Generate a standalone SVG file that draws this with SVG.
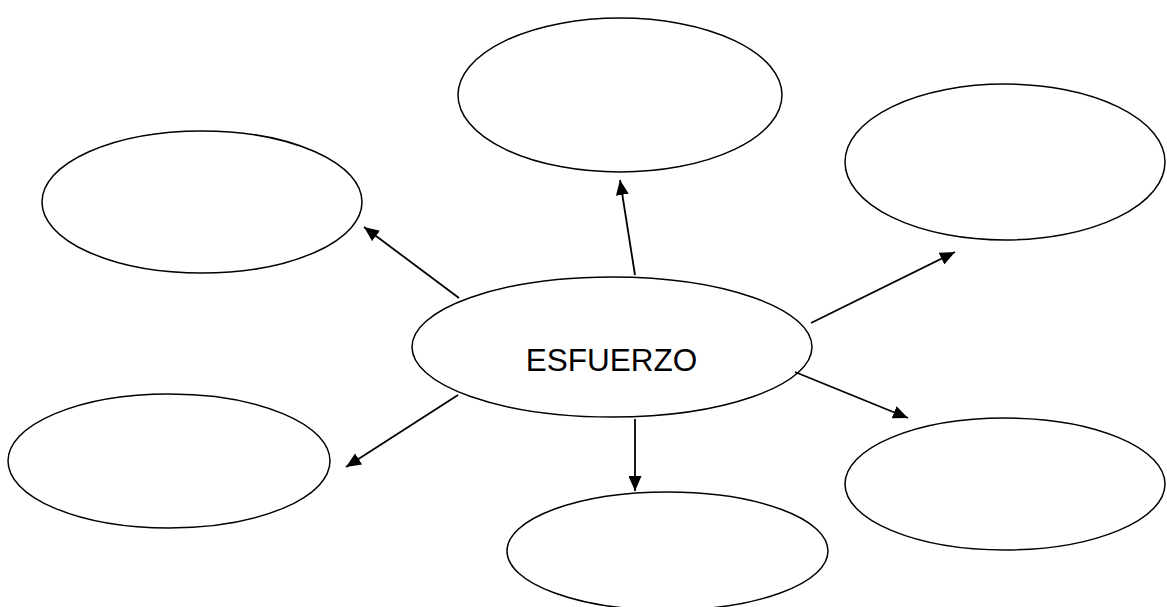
<svg xmlns="http://www.w3.org/2000/svg" width="1167" height="607" viewBox="0 0 1167 607">
<style>
.n{fill:#fff;stroke:#000;stroke-width:1.5}
.c{stroke:#000;stroke-width:1.8;fill:none;marker-end:url(#ah)}
.t{font-family:"Liberation Sans",Arial,sans-serif;font-size:31.5px;fill:#000}
</style>
<defs>
<marker id="ah" viewBox="0 0 10 10" refX="10" refY="5" markerWidth="15" markerHeight="13" markerUnits="userSpaceOnUse" orient="auto" preserveAspectRatio="none">
<path d="M0,0 L10,5 L0,10 Z" fill="#000"/>
</marker>
</defs>
<rect width="1167" height="607" fill="#fff"/>
<g id="node-top"><ellipse class="n" cx="620" cy="95" rx="162" ry="77"/></g>
<g id="node-topleft"><ellipse class="n" cx="202" cy="202" rx="160" ry="71"/></g>
<g id="node-topright"><ellipse class="n" cx="1005" cy="162" rx="160" ry="78"/></g>
<g id="node-bottomleft"><ellipse class="n" cx="169" cy="461" rx="161" ry="67"/></g>
<g id="node-bottomright"><ellipse class="n" cx="1005" cy="484" rx="160" ry="66"/></g>
<g id="node-bottom"><ellipse class="n" cx="667.5" cy="551" rx="160.5" ry="59"/></g>
<g id="node-center"><ellipse class="n" cx="612" cy="347" rx="200" ry="70"/>
<text class="t" x="611.5" y="371" text-anchor="middle">ESFUERZO</text></g>
<g id="connectors">
<line class="c" x1="459" y1="298" x2="364" y2="227"/>
<line class="c" x1="635" y1="275" x2="620" y2="180"/>
<line class="c" x1="811" y1="323" x2="955" y2="252"/>
<line class="c" x1="795" y1="372" x2="908" y2="418"/>
<line class="c" x1="458" y1="395" x2="346" y2="467"/>
<line class="c" x1="635" y1="419" x2="635" y2="491"/>
</g>
</svg>
